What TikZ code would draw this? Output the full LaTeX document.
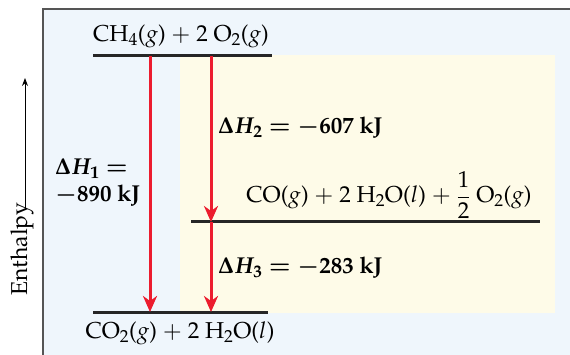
\documentclass[tikz,border=0pt]{standalone}
\usepackage[T1]{fontenc}
\usepackage{mathpazo}
\usepackage{amsmath}
\usetikzlibrary{arrows.meta}
\definecolor{bluebg}{HTML}{EFF6FC}
\definecolor{yellowbg}{HTML}{FEFBE8}
\definecolor{arrred}{HTML}{EC1C2E}
\definecolor{framegrey}{HTML}{555555}
\newcommand{\pl}{\ $+$\ }
\tikzset{
  txt/.style={inner sep=0pt, font=\fontsize{23}{27}\selectfont},
  level/.style={line width=3pt, black!85},
  harrow/.style={line width=3pt, arrred, -{Stealth[length=16pt,width=14pt,inset=5pt]}},
  lbl/.style={inner sep=0pt, font=\fontsize{23}{27}\selectfont\bfseries\boldmath, align=left}
}
\begin{document}
\begin{tikzpicture}[x=1pt,y=-1pt]
\useasboundingbox (0,0) rectangle (570,355);
\fill[bluebg] (43,9) rectangle (570,355);
\draw[framegrey, line width=1.5pt] (43,355) -- (43,9) -- (570,9);
\fill[yellowbg] (180,55) rectangle (555,313);
% levels
\coordinate (t1) at (93,56); \coordinate (t2) at (272,56);
\coordinate (m1) at (191,222); \coordinate (m2) at (540,222);
\coordinate (b1) at (93,312); \coordinate (b2) at (268,312);
\draw[level] (t1) -- (t2);
\draw[level] (m1) -- (m2);
\draw[level] (b1) -- (b2);
% arrow endpoints
\coordinate (a1s) at (150,56); \coordinate (a1e) at (150,312);
\coordinate (a2s) at (211,56); \coordinate (a2e) at (211,222);
\coordinate (a3s) at (211,222); \coordinate (a3e) at (211,312);
\draw[harrow] (a1s) -- (a1e);
\draw[harrow] (a2s) -- (a2e);
\draw[harrow] (a3s) -- (a3e);
% texts
\node[txt] (top) at (181,36) {CH$_4$($g$)\pl2 O$_2$($g$)};
\node[txt] (mid) at (389,195) {CO($g$)\pl2 H$_2$O($l$)\pl$\dfrac{1}{2}$ O$_2$($g$)};
\node[txt] (bot) at (180,333) {CO$_2$($g$)\pl2 H$_2$O($l$)};
\node[lbl, anchor=west] (dh1) at (55,183) {$\Delta H_1 =$\\$-$890 kJ};
\node[lbl, anchor=west] (dh2) at (218,128) {$\Delta H_2 = -$607 kJ};
\node[lbl, anchor=west] (dh3) at (218,268) {$\Delta H_3 = -$283 kJ};
% enthalpy axis
\node[txt, rotate=90] (enth) at (22,249) {Enthalpy};
\coordinate (ax1) at (25,210); \coordinate (ax2) at (25,78);
\draw[line width=1pt, -{Stealth[length=8pt,width=6pt]}] (ax1) -- (ax2);
\end{tikzpicture}
\end{document}
